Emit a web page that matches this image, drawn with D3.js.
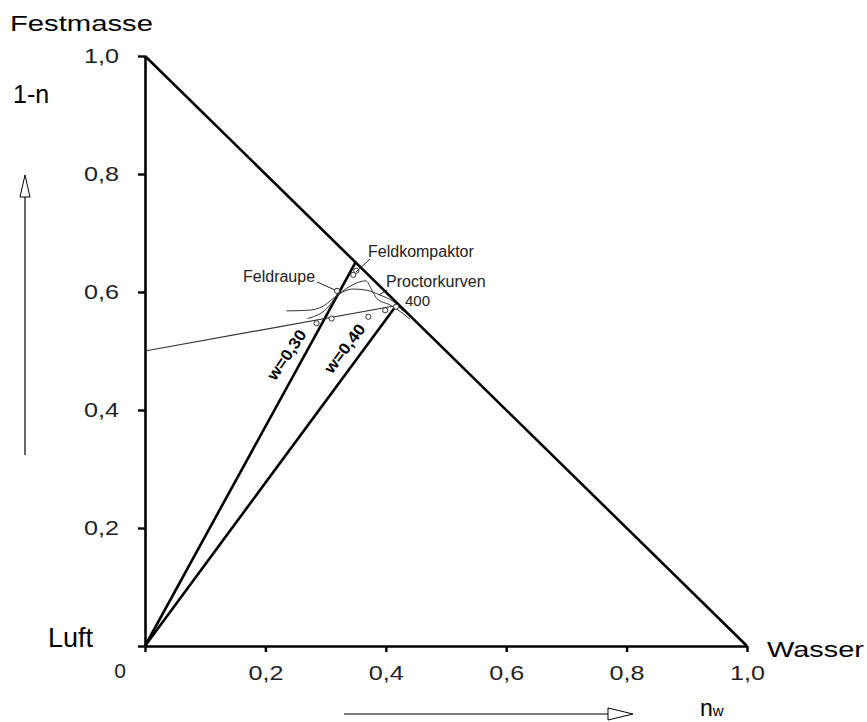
<!DOCTYPE html>
<html>
<head>
<meta charset="utf-8">
<script src="https://cdn.jsdelivr.net/npm/d3@7"></script>
<style>
  body { margin: 0; background: #fff; }
  svg { display: block; font-family: "Liberation Sans", Arial, sans-serif; }
</style>
</head>
<body>
<script>

// axis ticks (n_w on x, 1-n on y)
var xTicks = [0, 0.2, 0.4, 0.6, 0.8, 1.0];
var yTicks = [0, 0.2, 0.4, 0.6, 0.8, 1.0];

// saturation line (1-n) + n_w = 1
var satLine = [[0, 1], [1, 0]];

// lines of constant water content, from origin to saturation
var wNames = ["w=0,30", "w=0,40"];
var wEnds  = [[0.349, 0.649], [0.418, 0.578]];

// straight line through the field points
var fieldLine = [[0, 0.50], [0.423, 0.578]];

// proctor curves
var proctorA = [
    [0.235, 0.568], [0.270, 0.569], [0.296, 0.576], [0.316, 0.592],
    [0.341, 0.610], [0.367, 0.619], [0.377, 0.603], [0.385, 0.589],
    [0.407, 0.578], [0.424, 0.567], [0.440, 0.554]
];
var proctorB = [
    [0.270, 0.555], [0.302, 0.572], [0.318, 0.592], [0.346, 0.605],
    [0.368, 0.603], [0.390, 0.595], [0.412, 0.584], [0.429, 0.567]
];

// measured points
var points = [
    [0.285, 0.547], [0.310, 0.555], [0.371, 0.558], [0.399, 0.569],
    [0.417, 0.575], [0.319, 0.602], [0.346, 0.629], [0.351, 0.636]
];

var width  = 867,
    height = 722;

var fmt = d => d3.format(".1f")(d).replace(".", ",");

const svg = d3.select("body")
    .append("svg")
    .attr("width", width)
    .attr("height", height);

var x = d3.scaleLinear().domain([0, 1]).range([145, 747]);
var y = d3.scaleLinear().domain([0, 1]).range([646, 56]);

var line = d3.line().x(d => x(d[0])).y(d => y(d[1]));
var curve = d3.line().x(d => x(d[0])).y(d => y(d[1])).curve(d3.curveMonotoneX);

// axes
var xAxis = svg.append("g")
    .attr("transform", "translate(0," + y(0) + ")")
    .call(d3.axisBottom(x).tickValues(xTicks).tickSize(6).tickSizeOuter(0)
        .tickPadding(13).tickFormat(d => d == 0 ? "" : fmt(d)));

var yAxis = svg.append("g")
    .attr("transform", "translate(" + x(0) + ",0)")
    .call(d3.axisLeft(y).tickValues(yTicks).tickSize(7).tickSizeOuter(0)
        .tickPadding(19).tickFormat(d => d == 0 ? "" : fmt(d)));

[xAxis, yAxis].forEach(function(a) {
    a.select(".domain").attr("stroke", "#000").attr("stroke-width", 2.6);
    a.selectAll(".tick line").attr("stroke", "#000").attr("stroke-width", 2.4);
    a.selectAll(".tick text")
        .attr("fill", "#222")
        .style("font-size", "21px")
        .attr("textLength", d => d == 0 ? null : 35)
        .attr("lengthAdjust", "spacingAndGlyphs");
});

svg.append("text")
    .attr("x", 120).attr("y", 678)
    .attr("text-anchor", "middle")
    .attr("fill", "#222")
    .style("font-size", "21px")
    .text("0");

// saturation line
svg.append("path")
    .attr("d", line(satLine))
    .attr("fill", "none")
    .attr("stroke", "#000")
    .attr("stroke-width", 2.6);

// water content lines
svg.append("g").selectAll("path")
    .data(wEnds)
    .join("path")
    .attr("d", d => line([[0, 0], d]))
    .attr("fill", "none")
    .attr("stroke", "#000")
    .attr("stroke-width", 2.6);

var wLabelAt = [{t: 0.75, off: 10, rot: -56}, {t: 0.86, off: 11, rot: -53}];
svg.append("g").selectAll("text")
    .data(wNames)
    .join("text")
    .attr("transform", function(d, i) {
        var e = wEnds[i], p = wLabelAt[i];
        var px = x(0) + (x(e[0]) - x(0)) * p.t,
            py = y(0) + (y(e[1]) - y(0)) * p.t;
        return "translate(" + (px - p.off) + "," + py + ") rotate(" + p.rot + ")";
    })
    .attr("text-anchor", "middle")
    .attr("dy", "-0.1em")
    .style("font-size", "16px")
    .style("font-weight", "bold")
    .attr("textLength", 57)
    .attr("lengthAdjust", "spacingAndGlyphs")
    .text(d => d);

// field line and proctor curves
svg.append("path")
    .attr("d", line(fieldLine))
    .attr("fill", "none")
    .attr("stroke", "#333")
    .attr("stroke-width", 1.2);

svg.append("g").selectAll("path")
    .data([proctorA, proctorB])
    .join("path")
    .attr("d", d => curve(d))
    .attr("fill", "none")
    .attr("stroke", "#333")
    .attr("stroke-width", 1);

svg.append("g").selectAll("circle")
    .data(points)
    .join("circle")
    .attr("cx", d => x(d[0]))
    .attr("cy", d => y(d[1]))
    .attr("r", 2.6)
    .attr("fill", "#fff")
    .attr("stroke", "#333")
    .attr("stroke-width", 1);

// small labels with leaders
var notes = [
    {text: "Feldkompaktor", x: 368, y: 257, size: 16, lead: [[370, 259], [356, 272]]},
    {text: "Feldraupe",     x: 243, y: 282, size: 16, lead: [[317, 282], [335, 290]]},
    {text: "Proctorkurven", x: 386, y: 287, size: 16, lead: [[387, 290], [379, 295]]},
    {text: "400",           x: 405, y: 306, size: 15, lead: null}
];

svg.append("g").selectAll("text")
    .data(notes)
    .join("text")
    .attr("x", d => d.x)
    .attr("y", d => d.y)
    .attr("fill", "#222")
    .style("font-size", d => d.size + "px")
    .text(d => d.text);

svg.append("g").selectAll("line")
    .data(notes.filter(d => d.lead))
    .join("line")
    .attr("x1", d => d.lead[0][0]).attr("y1", d => d.lead[0][1])
    .attr("x2", d => d.lead[1][0]).attr("y2", d => d.lead[1][1])
    .attr("stroke", "#222")
    .attr("stroke-width", 1);

// corner labels
var corner = [
    {text: "Festmasse", x: 10,  y: 31,  size: 22, len: 143},
    {text: "1-n",       x: 13,  y: 103, size: 25, len: null},
    {text: "Luft",      x: 48,  y: 647, size: 27, len: null},
    {text: "Wasser",    x: 767, y: 657, size: 22, len: 97}
];

svg.append("g").selectAll("text")
    .data(corner)
    .join("text")
    .attr("x", d => d.x)
    .attr("y", d => d.y)
    .attr("fill", "#000")
    .style("font-size", d => d.size + "px")
    .attr("textLength", d => d.len)
    .attr("lengthAdjust", "spacingAndGlyphs")
    .text(d => d.text);

// n_w label
var nw = svg.append("text")
    .attr("x", 700).attr("y", 716)
    .attr("fill", "#000")
    .style("font-size", "23px");
nw.append("tspan").text("n");
nw.append("tspan").style("font-size", "15px").text("w");

// direction arrows
svg.append("line")
    .attr("x1", 25).attr("y1", 455).attr("x2", 25).attr("y2", 197)
    .attr("stroke", "#000").attr("stroke-width", 1.2);
svg.append("path")
    .attr("d", "M25,175 L30,197 L20,197 Z")
    .attr("fill", "#fff").attr("stroke", "#000").attr("stroke-width", 1);

svg.append("line")
    .attr("x1", 344).attr("y1", 714).attr("x2", 608).attr("y2", 714)
    .attr("stroke", "#000").attr("stroke-width", 1.2);
svg.append("path")
    .attr("d", "M633,714 L608,708 L608,720 Z")
    .attr("fill", "#fff").attr("stroke", "#000").attr("stroke-width", 1);

</script>
</body>
</html>
